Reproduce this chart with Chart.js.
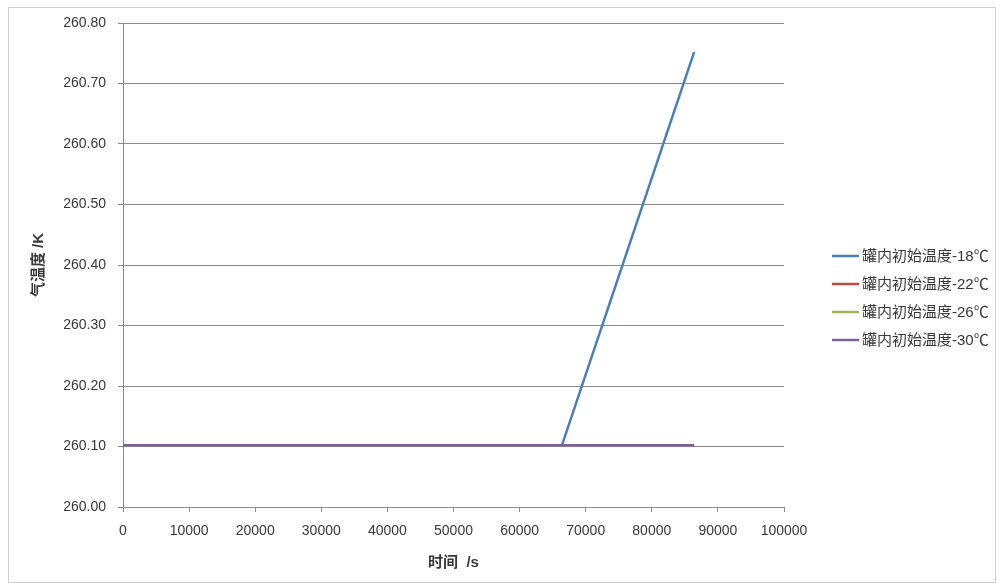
<!DOCTYPE html>
<html>
<head>
<meta charset="utf-8">
<script src="https://cdn.jsdelivr.net/npm/chart.js@4/dist/chart.umd.min.js"></script>
<style>
    html, body { margin: 0; padding: 0; background: #fff; }
    #wrap { position: relative; width: 1003px; height: 587px; }
    #frame { position: absolute; left: 8px; top: 7px; width: 986px; height: 574px; border: 1px solid #d0d0d0; }
    #myChart { position: absolute; left: 0; top: 0; }
</style>
</head>
<body>
<div id="wrap">
    <div id="frame"></div>
    <canvas id="myChart" width="1003" height="587"></canvas>
</div>
<script>
// series names (legend) and values
var seriesNames = ['罐内初始温度-18℃', '罐内初始温度-22℃', '罐内初始温度-26℃', '罐内初始温度-30℃'];
var seriesColors = ['#4a7ebb', '#be4b48', '#98b954', '#7d60a0'];

var time18 = [0, 66400, 86400];
var temp18 = [260.102, 260.102, 260.752];
var time22 = [0, 86400];
var temp22 = [260.102, 260.102];
var time26 = [0, 86400];
var temp26 = [260.102, 260.102];
var time30 = [0, 86400];
var temp30 = [260.102, 260.102];

// axis ticks
var xTicks = [0, 10000, 20000, 30000, 40000, 50000, 60000, 70000, 80000, 90000, 100000];
var yTicks = [260.00, 260.10, 260.20, 260.30, 260.40, 260.50, 260.60, 260.70, 260.80];

var xTitle = '时间  /s';
var yTitle = '气温度 /K';

var fontFamily = '"Liberation Sans", "Noto Sans CJK SC", sans-serif';
var gridColor = '#8c8c8c';
var textColor = '#383838';

function toPoints(xs, ys) {
    var pts = [];
    for (var i = 0; i < xs.length; i++) {
        pts.push({x: xs[i], y: ys[i]});
    }
    return pts;
}

var allTimes = [time18, time22, time26, time30];
var allTemps = [temp18, temp22, temp26, temp30];

var datasets = [];
for (var i = 0; i < seriesNames.length; i++) {
    datasets.push({
        label: seriesNames[i],
        data: toPoints(allTimes[i], allTemps[i]),
        borderColor: seriesColors[i],
        backgroundColor: seriesColors[i],
        borderWidth: 2.5,
        pointRadius: 0,
        tension: 0,
        // last series sits on top, like in the original
        order: seriesNames.length - i
    });
}

// legend on the right, drawn by hand so the spacing can match
var sideLegend = {
    id: 'sideLegend',
    afterDraw: function (chart) {
        var ctx = chart.ctx;
        var x0 = chart.chartArea.right + 48;
        var y0 = 256;
        ctx.save();
        ctx.font = '15px ' + fontFamily;
        ctx.textBaseline = 'middle';
        chart.data.datasets.forEach(function (ds, i) {
            var y = y0 + i * 28;
            ctx.strokeStyle = ds.borderColor;
            ctx.lineWidth = 2.5;
            ctx.beginPath();
            ctx.moveTo(x0, y);
            ctx.lineTo(x0 + 27, y);
            ctx.stroke();
            ctx.fillStyle = textColor;
            ctx.fillText(ds.label, x0 + 30, y + 1);
        });
        ctx.restore();
    }
};

var ctx = document.getElementById('myChart').getContext('2d');
var chart = new Chart(ctx, {
    type: 'line',
    data: {datasets: datasets},
    plugins: [sideLegend],
    options: {
        responsive: false,
        animation: false,
        layout: {padding: {top: 23, right: 219, bottom: 0, left: 0}},
        plugins: {
            legend: {display: false},
            tooltip: {enabled: false}
        },
        scales: {
            x: {
                type: 'linear',
                min: xTicks[0],
                max: xTicks[xTicks.length - 1],
                afterBuildTicks: function (scale) {
                    scale.ticks = xTicks.map(function (v) { return {value: v}; });
                },
                afterFit: function (scale) { scale.height = 80; },
                ticks: {
                    color: textColor,
                    font: {family: fontFamily, size: 14},
                    padding: 11,
                    maxRotation: 0,
                    autoSkip: false,
                    callback: function (v) { return String(v); }
                },
                grid: {
                    drawOnChartArea: false,
                    drawTicks: true,
                    tickLength: 5,
                    color: gridColor
                },
                border: {color: gridColor, width: 1},
                title: {
                    display: true,
                    text: xTitle,
                    color: textColor,
                    font: {family: fontFamily, size: 15, weight: 'bold'},
                    padding: {top: 0, bottom: 15}
                }
            },
            y: {
                min: yTicks[0],
                max: yTicks[yTicks.length - 1],
                afterBuildTicks: function (scale) {
                    scale.ticks = yTicks.map(function (v) { return {value: v}; });
                },
                afterFit: function (scale) { scale.width = 123; },
                ticks: {
                    color: textColor,
                    font: {family: fontFamily, size: 14},
                    padding: 12,
                    autoSkip: false,
                    callback: function (v) { return Number(v).toFixed(2); }
                },
                grid: {
                    drawOnChartArea: true,
                    drawTicks: true,
                    tickLength: 5,
                    color: gridColor
                },
                border: {color: gridColor, width: 1},
                title: {
                    display: true,
                    text: yTitle,
                    color: textColor,
                    font: {family: fontFamily, size: 15, weight: 'bold'},
                    padding: {top: 30, bottom: 0}
                }
            }
        }
    }
});
</script>
</body>
</html>
